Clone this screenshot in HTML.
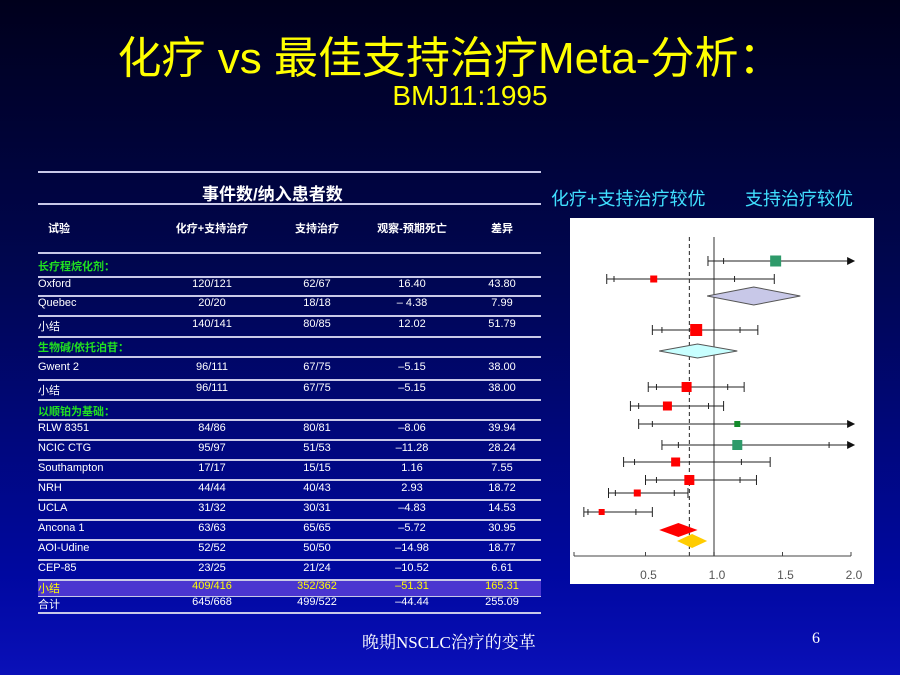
<!DOCTYPE html>
<html><head><meta charset="utf-8"><style>
body{margin:0;width:900px;height:675px;overflow:hidden;background:linear-gradient(#00001c 0%,#000650 40%,#0008a0 85%,#0a10b8 100%);font-family:"Liberation Sans","Noto Sans CJK SC",sans-serif;position:relative}
.a{position:absolute;white-space:nowrap}
.t{font-size:11px;color:#fff}
.ln{position:absolute;left:38px;width:503px;height:2px;background:#c8c8e8}
</style></head><body>
<div class="a" style="left:0;width:900px;top:22px;text-align:center;color:#ffff00;font-size:44px;">化疗 vs 最佳支持治疗Meta-分析：</div>
<div class="a" style="left:0;width:940px;top:80px;text-align:center;color:#ffff00;font-size:28px;">BMJ11:1995</div>
<div class="a" style="left:551px;top:185px;color:#40e0ff;font-size:18px">化疗+支持治疗较优</div>
<div class="a" style="left:745px;top:185px;color:#40e0ff;font-size:18px">支持治疗较优</div>
<div id="tbl"></div>
<svg id="plot" class="a" style="left:570px;top:218px" width="304" height="366"></svg>
<div class="a" style="left:362px;top:628px;color:#fff;font-size:17px;font-family:'Liberation Serif','Noto Serif CJK SC',serif">晚期NSCLC治疗的变革</div>
<div class="a" style="left:812px;top:630px;color:#fff;font-size:16px;font-family:'Liberation Serif',serif">6</div>
<script>
const trials=["Oxford","Quebec","小结","生物碱/依托泊苷：","Gwent 2","小结","以顺铂为基础：","RLW 8351","NCIC CTG","Southampton","NRH","UCLA","Ancona 1","AOI-Udine","CEP-85","小结","合计"];
const chemo=["120/121","20/20","140/141","","96/111","96/111","","84/86","95/97","17/17","44/44","31/32","63/63","52/52","23/25","409/416","645/668"];
const bsc=["62/67","18/18","80/85","","67/75","67/75","","80/81","51/53","15/15","40/43","30/31","65/65","50/50","21/24","352/362","499/522"];
const oe=["16.40","– 4.38","12.02","","–5.15","–5.15","","–8.06","–11.28","1.16","2.93","–4.83","–5.72","–14.98","–10.52","–51.31","–44.44"];
const vr=["43.80","7.99","51.79","","38.00","38.00","","39.94","28.24","7.55","18.72","14.53","30.95","18.77","6.61","165.31","255.09"];
const rowY=[286,305,326,347,369,390,411,430,450,470,490,510,530,550,570,588,604];
const lines=[172,204,253,277,296,316,337,357,380,400,420,440,460,480,500,520,540,560,580,596,613];
const T=document.getElementById('tbl');
lines.forEach(y=>{const d=document.createElement('div');d.className='ln';d.style.top=(y-1)+'px';


T.appendChild(d);});
const hl=document.createElement('div');hl.className='a';hl.style.cssText='left:38px;top:581px;width:503px;height:15px;background:#4a35d0';


T.appendChild(hl);
function txt(s,x,y,c,center,sz,bold){const d=document.createElement('div');d.className='a t';d.textContent=s;
d.style.top=(y-8)+'px';d.style.color=c;if(sz)d.style.fontSize=sz+'px';if(bold)d.style.fontWeight='bold';
if(center){d.style.left=(x-60)+'px';d.style.width='120px';d.style.textAlign='center';}else d.style.left=x+'px';


T.appendChild(d);}
txt('事件数/纳入患者数',262,188,'#fff',true,17,true);
txt('试验',48,228,'#fff',false,11,true);
txt('化疗+支持治疗',212,228,'#fff',true,11,true);
txt('支持治疗',317,228,'#fff',true,11,true);
txt('观察-预期死亡',412,228,'#fff',true,11,true);
txt('差异',502,228,'#fff',true,11,true);
txt('长疗程烷化剂：',38,266,'#20e020',false,11,true);
trials.forEach((n,i)=>{const y=rowY[i];const grp=chemo[i]==='';const c=grp?'#20e020':(i===15?'#ffff00':'#fff');
txt(n,38,y,c,false,11,grp);if(grp)return;
txt(chemo[i],212,y,c,true);txt(bsc[i],317,y,c,true);txt(oe[i],412,y,c,true);txt(vr[i],502,y,c,true);});

// forest plot
const fy=[261,279,296,330,351,387,406,424,445,462,480,493,512,530,541];
const lo=[0.956,0.217,0.95,0.55,0.60,0.52,0.39,0.45,0.62,0.34,0.50,0.23,0.05,0.60,0.73];
const inLo=[1.07,0.27,null,0.62,null,0.58,0.45,0.55,0.74,0.42,0.58,0.28,0.08,null,null];
const est=[1.45,0.56,1.29,0.87,0.88,0.80,0.66,1.17,1.17,0.72,0.82,0.44,0.18,0.74,0.84];
const inHi=[null,1.15,null,1.19,null,1.10,0.96,null,1.84,1.20,1.19,0.71,0.43,null,null];
const hi=[2.03,1.44,1.63,1.32,1.17,1.22,1.07,2.03,2.03,1.41,1.31,0.81,0.55,0.88,0.95];
const kind=["sq","sq","dia","sq","dia","sq","sq","sq","sq","sq","sq","sq","sq","dia","dia"];
const color=["#2e9a6a","#ff0000","#c8c8e8","#ff0000","#c8ffff","#ff0000","#ff0000","#138a2a","#2e9a6a","#ff0000","#ff0000","#ff0000","#ff0000","#ff0000","#ffcc00"];
const size=[11,7,9,12,7,10,9,6,10,9,10,7,6,7,7];
const arrow=[1,0,0,0,0,0,0,1,1,0,0,0,0,0,0];
const ticks=[0.5,1.0,1.5,2.0];
const X=v=>7+v*137, Y=y=>y-218;
const S=document.getElementById('plot');const NS='http://www.w3.org/2000/svg';
function el(t,a,nm){const e=document.createElementNS(NS,t);for(const k in a)e.setAttribute(k,a[k]);


S.appendChild(e);return e;}
el('rect',{x:0,y:0,width:304,height:366,fill:'#fff'},'plot-background');
el('line',{x1:X(1),x2:X(1),y1:19,y2:Y(556),stroke:'#777','stroke-width':1.5},'null-line');
el('line',{x1:X(0.82),x2:X(0.82),y1:19,y2:Y(556),stroke:'#222','stroke-width':1,'stroke-dasharray':'4,3'},'overall-dashed-line');
el('line',{x1:4,x2:X(2),y1:Y(556),y2:Y(556),stroke:'#444'},'x-axis');
el('line',{x1:4,x2:4,y1:Y(556),y2:Y(552),stroke:'#444'},'x-tick');
ticks.forEach(t=>{el('line',{x1:X(t),x2:X(t),y1:Y(556),y2:Y(552),stroke:'#444'},'x-tick');
const tx=el('text',{x:X(t)+3,y:Y(579),'text-anchor':'middle','font-size':12,fill:'#555','font-family':'Liberation Sans'},'x-tick-label');tx.textContent=t.toFixed(1);});
est.forEach((e,i)=>{const y=Y(fy[i]);
if(kind[i]==='dia'){const h=size[i];
el('polygon',{points:`${X(lo[i])},${y} ${X(e)},${y-h} ${X(hi[i])},${y} ${X(e)},${y+h}`,fill:color[i],stroke:(i>=13?'none':'#555')},'pooled-diamond');return;}
el('line',{x1:X(lo[i]),x2:X(hi[i])-(arrow[i]?6:0),y1:y,y2:y,stroke:'#222'},'ci-line');
el('line',{x1:X(lo[i]),x2:X(lo[i]),y1:y-5,y2:y+5,stroke:'#222'},'ci-cap');
if(!arrow[i])el('line',{x1:X(hi[i]),x2:X(hi[i]),y1:y-5,y2:y+5,stroke:'#222'},'ci-cap');
else el('polygon',{points:`${X(hi[i])},${y} ${X(hi[i])-8},${y-4} ${X(hi[i])-8},${y+4}`,fill:'#111'},'ci-arrow');
[inLo[i],inHi[i]].forEach(v=>{if(v!==null)el('line',{x1:X(v),x2:X(v),y1:y-3,y2:y+3,stroke:'#222'},'ci-inner-tick');});
const s=size[i];el('rect',{x:X(e)-s/2,y:y-s/2,width:s,height:s,fill:color[i]},'point-estimate');});
</script>
</body></html>
